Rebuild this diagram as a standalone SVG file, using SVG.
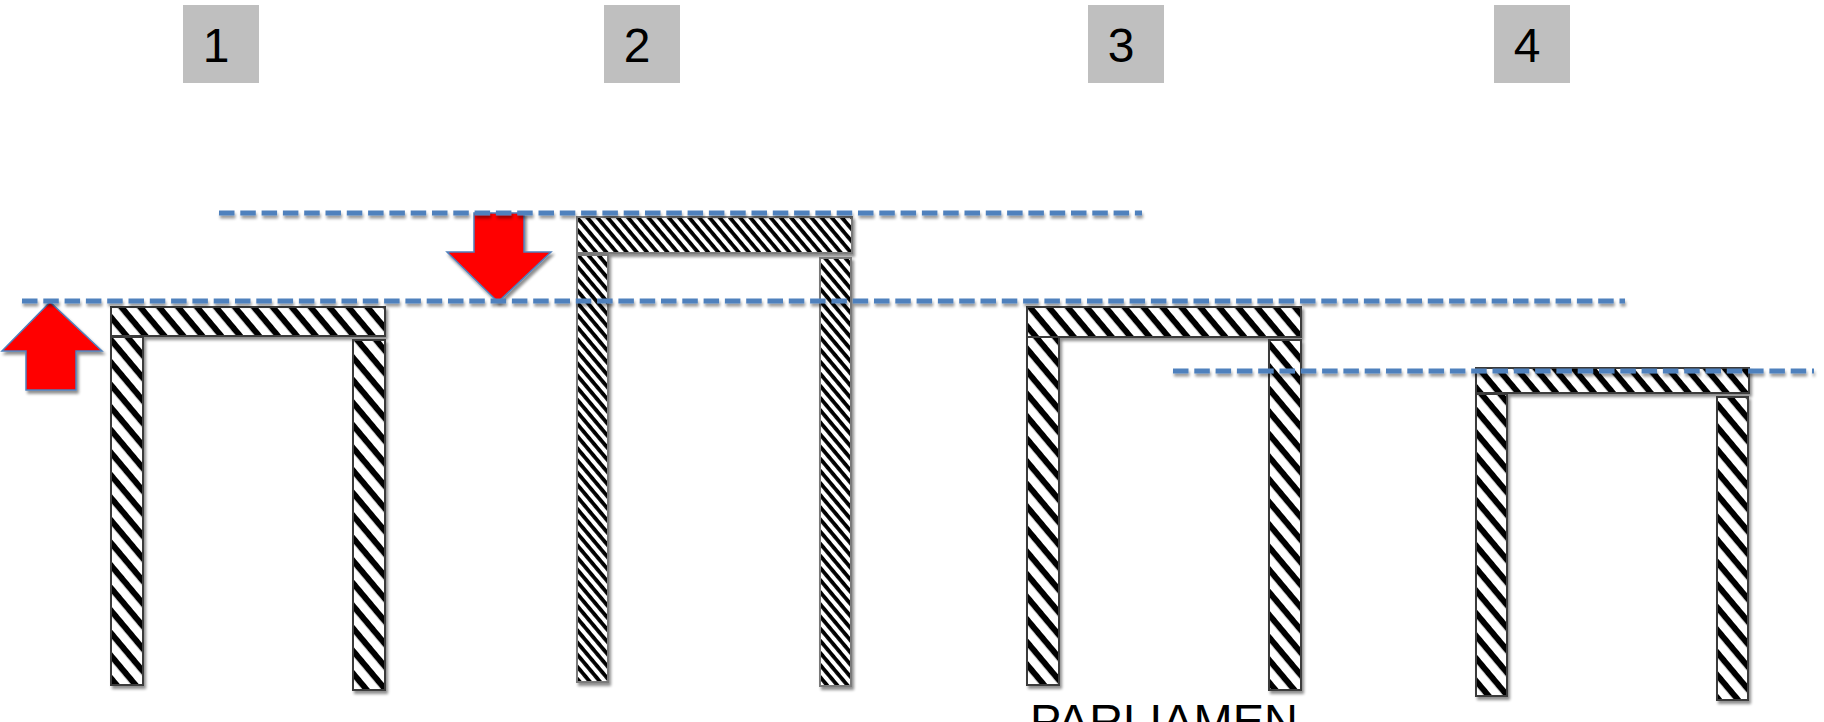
<svg xmlns="http://www.w3.org/2000/svg" width="1824" height="722" viewBox="0 0 1824 722">
<defs>
  <pattern id="hatchA" patternUnits="userSpaceOnUse" width="14.5" height="14.5" patternTransform="rotate(50)">
    <rect x="0" y="0" width="14.5" height="14.5" fill="#ffffff"/>
    <rect x="0" y="0" width="14.5" height="6" fill="#000000"/>
  </pattern>
  <pattern id="hatchB" patternUnits="userSpaceOnUse" width="7.8" height="7.8" patternTransform="rotate(50)">
    <rect x="0" y="0" width="7.8" height="7.8" fill="#ffffff"/>
    <rect x="0" y="0" width="7.8" height="3.8" fill="#000000"/>
  </pattern>
  <filter id="shadow" x="-20%" y="-20%" width="140%" height="160%">
    <feGaussianBlur in="SourceAlpha" stdDeviation="1.6"/>
    <feOffset dx="2" dy="3" result="b"/>
    <feComponentTransfer><feFuncA type="linear" slope="0.45"/></feComponentTransfer>
    <feMerge><feMergeNode/><feMergeNode in="SourceGraphic"/></feMerge>
  </filter>
  <filter id="lshadow" x="-2%" y="-300%" width="104%" height="700%">
    <feGaussianBlur in="SourceAlpha" stdDeviation="1.5"/>
    <feOffset dx="1" dy="3" result="b"/>
    <feComponentTransfer><feFuncA type="linear" slope="0.4"/></feComponentTransfer>
    <feMerge><feMergeNode/><feMergeNode in="SourceGraphic"/></feMerge>
  </filter>
</defs>
<style>
  .num { fill: #BFBFBF; }
  .digit { font-family: "Liberation Sans", Arial, sans-serif; font-size: 48px; fill: #000; text-anchor: middle; }
  .pa { fill: url(#hatchA); stroke: #3a3a3a; stroke-width: 2; }
  .pb { fill: url(#hatchB); stroke: #7a7a7a; stroke-width: 2; }
  .dash { stroke: #4F81BD; stroke-width: 5; stroke-dasharray: 15.5 5.8; fill: none; }
  .arrow { fill: #FF0000; stroke: #4F81BD; stroke-width: 1.5; stroke-linejoin: miter; }
  .label { font-family: "Liberation Sans", Arial, sans-serif; font-size: 47px; fill: #000; }
</style>
<rect x="0" y="0" width="1824" height="722" fill="#ffffff"/>

<g id="label-1"><rect class="num" x="183" y="5" width="76" height="78"/><text class="digit" x="216" y="62">1</text></g>
<g id="label-2"><rect class="num" x="604" y="5" width="76" height="78"/><text class="digit" x="637" y="62">2</text></g>
<g id="label-3"><rect class="num" x="1088" y="5" width="76" height="78"/><text class="digit" x="1121" y="62">3</text></g>
<g id="label-4"><rect class="num" x="1494" y="5" width="76" height="78"/><text class="digit" x="1527" y="62">4</text></g>

<g id="frame-1" filter="url(#shadow)">
  <rect class="pa" x="111" y="307" width="274" height="29"/>
  <rect class="pa" x="111" y="337" width="32" height="348"/>
  <rect class="pa" x="353" y="340" width="32" height="350"/>
</g>
<g id="frame-2" filter="url(#shadow)">
  <rect class="pb" x="577" y="217" width="275" height="36"/>
  <rect class="pb" x="577" y="255" width="31" height="427"/>
  <rect class="pb" x="820" y="258" width="31" height="428"/>
</g>
<g id="frame-3" filter="url(#shadow)">
  <rect class="pa" x="1027" y="307" width="274" height="30"/>
  <rect class="pa" x="1027" y="337" width="32" height="348"/>
  <rect class="pa" x="1269" y="340" width="32" height="350"/>
</g>
<g id="frame-4" filter="url(#shadow)">
  <rect class="pa" x="1476" y="368" width="273" height="25"/>
  <rect class="pa" x="1476" y="394" width="31" height="302"/>
  <rect class="pa" x="1717" y="397" width="31" height="303"/>
</g>

<g id="arrow-up" filter="url(#shadow)">
  <polygon class="arrow" points="50,302 102,351 76,351 76,390 26,390 26,351 2,351"/>
</g>
<g id="arrow-down" filter="url(#shadow)">
  <polygon class="arrow" points="474,213 524,213 524,252 551,252 498,302 447,252 474,252"/>
</g>

<g id="connectors" filter="url(#lshadow)">
  <line class="dash" x1="219" y1="213" x2="1142" y2="213"/>
  <line class="dash" x1="22" y1="301" x2="1625" y2="301"/>
  <line class="dash" x1="1173" y1="371" x2="1814" y2="371"/>
</g>

<text class="label" x="1030" y="737" textLength="268" lengthAdjust="spacingAndGlyphs">PARLIAMEN</text>
</svg>
